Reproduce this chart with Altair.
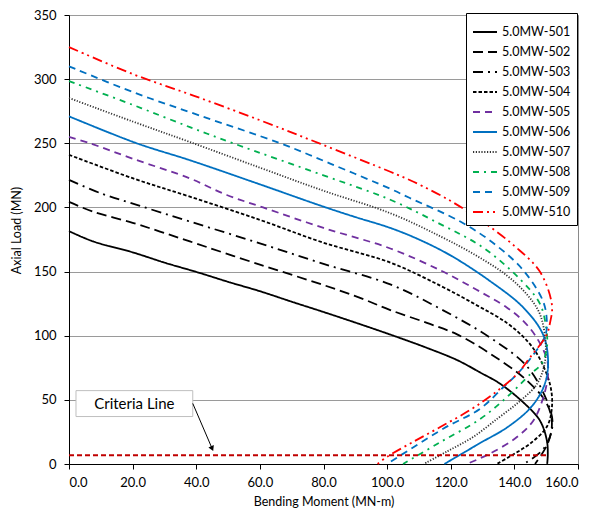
import altair as alt
import pandas as pd

# ---------------- data ----------------
series_names = ["5.0MW-501", "5.0MW-502", "5.0MW-503", "5.0MW-504", "5.0MW-505",
                "5.0MW-506", "5.0MW-507", "5.0MW-508", "5.0MW-509", "5.0MW-510"]
series_colors = ["#000000", "#000000", "#000000", "#000000", "#7030A0",
                 "#0070C0", "#333333", "#00B050", "#0070C0", "#FF0000"]
series_dashes = [[1, 0], [10, 5], [10, 5, 2, 5], [3.5, 2], [7, 5],
                 [1, 0], [1.2, 1.6], [6, 5, 2, 5], [7, 5], [10, 4, 2, 4, 2, 4]]

m_501 = [0, 7.6, 20, 30, 41, 50, 60, 70, 80, 91.5, 102, 112, 122, 129.2, 135.5, 142.8, 148, 150.2, 150.5, 150.3]
p_501 = [181.5, 173.5, 165, 157, 149, 142, 134.7, 126.5, 118.5, 109, 100, 91, 81, 71.4, 62.6, 48, 34, 18.5, 7, 0]

m_502 = [0, 7.6, 20, 28.6, 38, 60, 80, 91.5, 101, 112.5, 122, 132.4, 144, 150.2, 151.8, 150.5, 146.5]
p_502 = [204.3, 196.7, 188, 181.2, 173.5, 155.4, 139.5, 129.5, 120, 110, 101, 86, 65, 47, 32, 16, 0]

m_503 = [0, 10, 21.3, 38, 60, 80, 101, 116.7, 132.4, 144, 150.2, 152, 151, 148.5, 143]
p_503 = [221.5, 211, 202, 189, 172, 156, 140, 121, 98.5, 76, 49.5, 33, 20, 10, 0]

m_504 = [0, 20.2, 38, 60, 80, 101, 116.7, 128, 137.6, 144, 148, 151.3, 151.8, 150.2, 145, 140, 134.5]
p_504 = [241, 222.6, 208.4, 190.3, 172.5, 157, 139, 124, 110, 96, 82, 61, 44, 29, 16, 8, 0]

m_505 = [0, 6.6, 20, 38, 49.6, 61, 80, 101, 116.7, 128, 137.6, 143, 147, 150.2, 150.6, 149.1, 146, 140.8, 132.4, 125]
p_505 = [255, 250, 238, 222.6, 209.7, 200, 184, 168, 151, 136, 122, 111, 98.5, 82, 70, 52, 34, 21, 8.2, 0]

m_506 = [0, 21.3, 38, 60, 80, 90, 101, 110, 120, 132.4, 142.8, 149, 150.6, 149.5, 145.5, 138, 129, 118]
p_506 = [271, 250, 236.8, 218, 200.6, 192.5, 184, 175, 162.5, 142.5, 122, 101, 80, 62, 45, 29, 16, 0]

m_507 = [0, 20, 38, 60, 80, 101, 116.7, 128, 137.6, 144, 148, 149.8, 149.5, 147, 141.5, 135, 127, 119, 111.5]
p_507 = [285.3, 267, 251, 231, 213, 195.5, 177.5, 162.5, 147, 132, 117, 95, 78, 62, 48.5, 36, 21, 10, 0]

m_508 = [0, 20, 38, 51.6, 80, 101, 116.7, 130, 141.8, 148, 150, 150.2, 148.5, 145, 137.6, 129.2, 116.7, 105]
p_508 = [298.5, 280, 262.6, 250, 225, 206, 187, 169, 144, 125, 106, 90, 78, 70, 52, 35, 17, 0]

m_509 = [0, 20, 41, 66.4, 82.1, 101, 107, 123, 134, 142.8, 149, 150.2, 149.7, 145, 140.8, 136.6, 129.2, 118, 100]
p_509 = [310, 290, 271.7, 250, 234.2, 214.5, 207.5, 189, 171, 151, 127, 111.5, 100, 82, 70, 60, 43, 28, 0]

m_510 = [0, 20, 39.1, 60, 78.9, 101, 108.3, 120, 130, 140, 148, 151.8, 151.2, 150, 144.9, 140.8, 133.4, 126, 116.7, 108, 99.9, 97]
p_510 = [325, 304, 287.2, 268, 249.7, 227.8, 220, 205, 189, 170, 150, 124, 110, 100, 83, 70, 54.6, 42, 28.8, 17, 5.5, 0]

criteria_m = [0, 150.2]
criteria_p = [6.8, 6.8]

callout_text = "Criteria Line"
callout_box = {"m1": 2.2, "m2": 38.9, "p1": 37, "p2": 57.2}
arrow_from = (38.9, 47.2)
arrow_to = (45.0, 12.0)

x_ticks = [0, 20, 40, 60, 80, 100, 120, 140, 160]
y_ticks = [0, 50, 100, 150, 200, 250, 300, 350]

# ---------------- tables ----------------
all_m = [m_501, m_502, m_503, m_504, m_505, m_506, m_507, m_508, m_509, m_510]
all_p = [p_501, p_502, p_503, p_504, p_505, p_506, p_507, p_508, p_509, p_510]
rows = []
for name, ms, ps in zip(series_names, all_m, all_p):
    for i, (m, p) in enumerate(zip(ms, ps)):
        rows.append({"series": name, "idx": i, "M": m, "P": p})
df = pd.DataFrame(rows)

crit_df = pd.DataFrame({"M": criteria_m, "P": criteria_p})
box_df = pd.DataFrame([callout_box])
text_df = pd.DataFrame({"M": [(callout_box["m1"] + callout_box["m2"]) / 2],
                        "P": [(callout_box["p1"] + callout_box["p2"]) / 2],
                        "t": [callout_text]})
arrow_df = pd.DataFrame({"M": [arrow_from[0]], "P": [arrow_from[1]],
                         "M2": [arrow_to[0]], "P2": [arrow_to[1]]})
head_df = pd.DataFrame({"M": [arrow_to[0]], "P": [arrow_to[1]]})

FONT = "Lato"

xscale = alt.Scale(domain=[0, 160], nice=False)
yscale = alt.Scale(domain=[0, 350], nice=False)

xaxis = alt.Axis(values=x_ticks, format=".1f", title="Bending Moment (MN-m)", grid=False,
                 labelPadding=7, titlePadding=6)
yaxis = alt.Axis(values=y_ticks, format="d", title="Axial Load (MN)", grid=True,
                 gridColor="#9A9A9A", gridWidth=1, labelPadding=8, titlePadding=10, titleY=215)

legend = alt.Legend(title=None, orient="none", legendX=397, legendY=-2,
                    symbolType="stroke", symbolSize=576, symbolStrokeWidth=2,
                    labelFont=FONT, labelFontSize=12.5, labelColor="#000000",
                    strokeColor="#000000", fillColor="#FFFFFF", padding=6,
                    rowPadding=0, labelOffset=4)

curves = alt.Chart(df).mark_line(strokeWidth=1.8, interpolate="catmull-rom").encode(
    x=alt.X("M:Q", scale=xscale, axis=xaxis),
    y=alt.Y("P:Q", scale=yscale, axis=yaxis),
    color=alt.Color("series:N", scale=alt.Scale(domain=series_names, range=series_colors), legend=legend),
    strokeDash=alt.StrokeDash("series:N", scale=alt.Scale(domain=series_names, range=series_dashes), legend=legend),
    order="idx:Q",
)

crit = alt.Chart(crit_df).mark_line(color="#C00000", strokeDash=[5, 3], strokeWidth=2).encode(
    x=alt.X("M:Q", scale=xscale), y=alt.Y("P:Q", scale=yscale)
)

box = alt.Chart(box_df).mark_rect(fill="#FFFFFF", stroke="#BFBFBF", strokeWidth=1).encode(
    x=alt.X("m1:Q", scale=xscale), x2="m2:Q",
    y=alt.Y("p1:Q", scale=yscale), y2="p2:Q"
)

txt = alt.Chart(text_df).mark_text(font=FONT, fontSize=15, color="#000000").encode(
    x=alt.X("M:Q", scale=xscale), y=alt.Y("P:Q", scale=yscale), text="t:N"
)

arrow = alt.Chart(arrow_df).mark_rule(color="#000000", strokeWidth=1).encode(
    x=alt.X("M:Q", scale=xscale), y=alt.Y("P:Q", scale=yscale), x2="M2:Q", y2="P2:Q"
)

head = alt.Chart(head_df).mark_point(shape="triangle-down", filled=True, size=35, angle=336,
                                     color="#000000", opacity=1).encode(
    x=alt.X("M:Q", scale=xscale), y=alt.Y("P:Q", scale=yscale)
)

chart = alt.layer(curves, crit, box, txt, arrow, head).properties(
    width=509, height=449,
    autosize=alt.AutoSizeParams(type="none"),
    padding={"left": 61, "top": 7, "right": 20, "bottom": 44},
).configure_view(stroke="#8A8A8A", strokeWidth=1).configure_axis(
    labelFont=FONT, labelFontSize=13, labelColor="#000000",
    titleFont=FONT, titleFontSize=12.5, titleFontWeight="normal", titleColor="#000000",
    domainColor="#000000", tickColor="#000000", tickSize=5,
)

chart.save("out.html", embed_options={"renderer": "svg", "actions": False})
